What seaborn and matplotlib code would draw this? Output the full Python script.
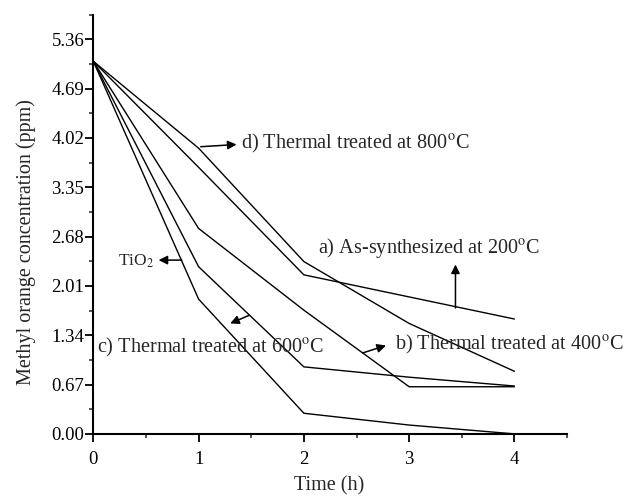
import pandas as pd
import numpy as np
import matplotlib
matplotlib.use('Agg')
import matplotlib.pyplot as plt
import seaborn as sns

# Values (ppm of methyl orange vs. time)
time_h = [0, 1, 2, 3, 4]
tio2 = [5.06, 1.83, 0.28, 0.12, 0.0]
as_synth_200 = [5.06, 3.62, 2.16, 1.86, 1.56]
treated_400 = [5.06, 2.79, 1.68, 0.64, 0.64]
treated_600 = [5.06, 2.27, 0.91, 0.77, 0.65]
treated_800 = [5.06, 3.88, 2.34, 1.50, 0.85]

y_ticks = [0.00, 0.67, 1.34, 2.01, 2.68, 3.35, 4.02, 4.69, 5.36]

# long-format table for seaborn
series = {'TiO2': tio2, 'a': as_synth_200, 'b': treated_400,
          'c': treated_600, 'd': treated_800}
rows = []
for name, vals in series.items():
    for t, v in zip(time_h, vals):
        rows.append({'Time': t, 'Conc': v, 'Sample': name})
df = pd.DataFrame(rows)

sns.set_style('ticks')
plt.rcParams['font.family'] = ['Liberation Serif', 'DejaVu Serif']
plt.rcParams['mathtext.fontset'] = 'stix'

fig = plt.figure(figsize=(6.35, 4.97), dpi=100)
ax = fig.add_axes([0.147, 0.127, 0.746, 0.843])

sns.lineplot(data=df, x='Time', y='Conc', hue='Sample',
             palette=['black'] * 5, linewidth=1.0, legend=False, ax=ax)

ax.set_xlim(0, 4.5)
ax.set_ylim(0, 5.69)
ax.set_xticks(time_h)
ax.set_xticks([0.5, 1.5, 2.5, 3.5, 4.5], minor=True)
ax.set_yticks(y_ticks)
ax.set_yticklabels([f'{v:.2f}' for v in y_ticks])
ax.set_yticks([(a + b) / 2 for a, b in zip(y_ticks[:-1], y_ticks[1:])] + [5.69], minor=True)
ax.tick_params(axis='both', which='major', length=6, width=1.3, labelsize=13.5,
               direction='out', colors='black')
ax.tick_params(axis='y', which='major', pad=0.5)
ax.tick_params(axis='x', which='major', pad=6)
ax.tick_params(axis='both', which='minor', length=3, width=1.1, direction='out')
for s in ['top', 'right']:
    ax.spines[s].set_visible(False)
for s in ['left', 'bottom']:
    ax.spines[s].set_linewidth(1.5)
    ax.spines[s].set_color('black')

ax.set_xlabel('Time (h)', fontsize=14.5)
ax.set_ylabel('Methyl orange concentration (ppm)', fontsize=14.5)
ax.xaxis.set_label_coords(0.498, -0.100)
ax.yaxis.set_label_coords(-0.12, 0.458)

arrow = dict(arrowstyle='-|>', color='black', lw=1.1, mutation_scale=13, shrinkA=0, shrinkB=0)
fs = 14.6
ax.annotate('', xy=(1.36, 3.93), xytext=(1.02, 3.90), arrowprops=arrow)
ax.text(1.40, 3.95, r'd) Thermal treated at 800$^{\mathrm{o}}$C', fontsize=fs, va='center')

ax.annotate('', xy=(3.44, 2.30), xytext=(3.44, 1.71), arrowprops=arrow)
ax.text(2.13, 2.52, r'a) As-synthesized at 200$^{\mathrm{o}}$C', fontsize=fs, va='center')

ax.annotate('', xy=(2.78, 1.20), xytext=(2.56, 1.10), arrowprops=arrow)
ax.text(2.87, 1.22, r'b) Thermal treated at 400$^{\mathrm{o}}$C', fontsize=fs, va='center')

ax.annotate('', xy=(1.30, 1.50), xytext=(1.48, 1.61), arrowprops=arrow)
ax.text(0.03, 1.17, r'c) Thermal treated at 600$^{\mathrm{o}}$C', fontsize=fs, va='center')

ax.annotate('', xy=(0.62, 2.36), xytext=(0.84, 2.36), arrowprops=arrow)
ax.text(0.23, 2.34, r'TiO$_2$', fontsize=12.5, va='center')

fig.savefig('out.png', dpi=100)
